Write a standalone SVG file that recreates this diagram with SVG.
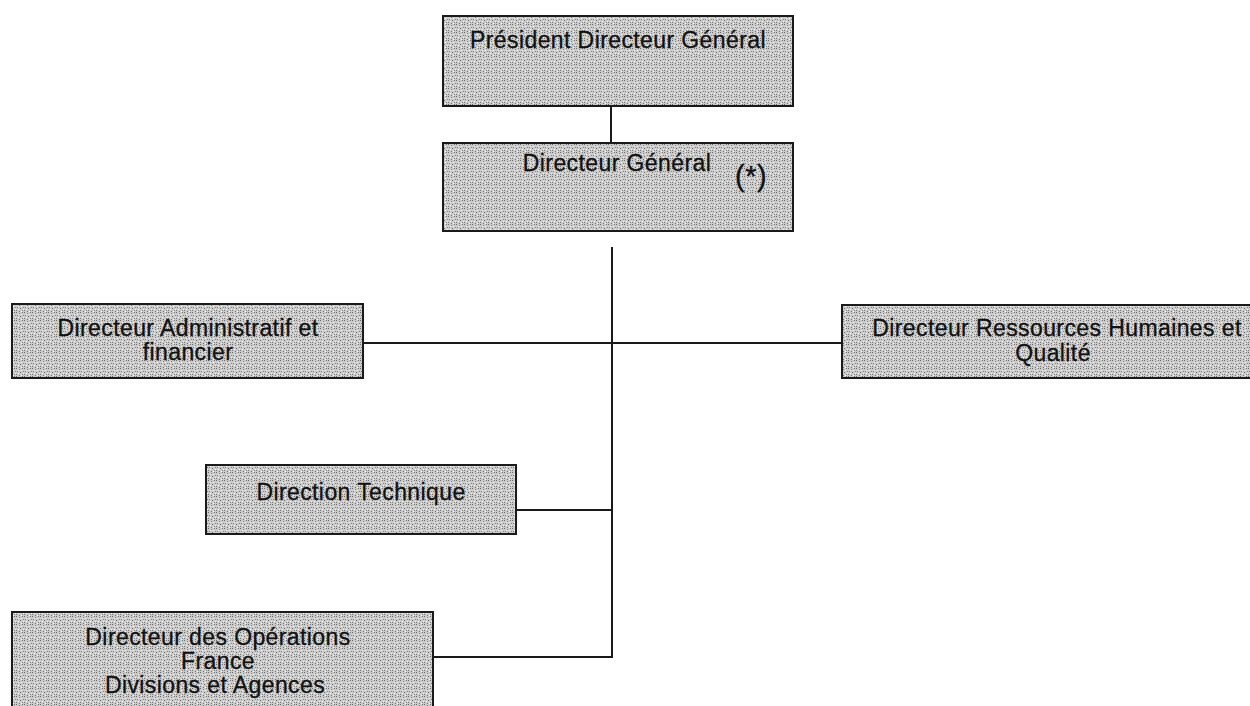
<svg xmlns="http://www.w3.org/2000/svg" width="1250" height="706" viewBox="0 0 1250 706">
  <defs>
    <pattern id="stipple" width="8" height="8" patternUnits="userSpaceOnUse">
      <rect width="8" height="8" fill="#cbcbcb"/>
      <rect x="0" y="0" width="1" height="1" fill="#6a6a6a"/>
      <rect x="3" y="1" width="1" height="1" fill="#808080"/>
      <rect x="6" y="0" width="1" height="1" fill="#757575"/>
      <rect x="1" y="3" width="1" height="1" fill="#7c7c7c"/>
      <rect x="5" y="2" width="1" height="1" fill="#f4f4f4"/>
      <rect x="4" y="4" width="1" height="1" fill="#6e6e6e"/>
      <rect x="7" y="3" width="1" height="1" fill="#888"/>
      <rect x="2" y="5" width="1" height="1" fill="#f0f0f0"/>
      <rect x="0" y="6" width="1" height="1" fill="#777"/>
      <rect x="6" y="6" width="1" height="1" fill="#828282"/>
      <rect x="3" y="7" width="1" height="1" fill="#707070"/>
      <rect x="7" y="5" width="1" height="1" fill="#f2f2f2"/>
      <rect x="2" y="2" width="1" height="1" fill="#ffffff"/>
      <rect x="5" y="7" width="1" height="1" fill="#ffffff"/>
    </pattern>
  </defs>
  <style>
    .box { fill: url(#stipple); stroke: #1a1a1a; stroke-width: 2; }
    .lbl { font-family: "Liberation Sans", Arial, sans-serif; font-size: 23px; letter-spacing: 0.4px; fill: #111; stroke: #111; stroke-width: 0.3; text-anchor: middle; }
    .conn line { stroke: #1a1a1a; stroke-width: 2; }
  </style>
  <rect width="1250" height="706" fill="#ffffff"/>

  <g id="connectors" class="conn">
    <line x1="611" y1="106" x2="611" y2="143"/>
    <line x1="612" y1="247" x2="612" y2="658"/>
    <line x1="363" y1="343" x2="842" y2="343"/>
    <line x1="516" y1="510" x2="612" y2="510"/>
    <line x1="433" y1="657" x2="612" y2="657"/>
  </g>

  <g id="node-pdg">
    <rect class="box" x="443" y="16" width="350" height="90"/>
    <text class="lbl" x="618" y="48">Président Directeur Général</text>
  </g>

  <g id="node-dg">
    <rect class="box" x="443" y="143" width="350" height="88"/>
    <text class="lbl" x="617" y="171">Directeur Général</text>
    <text x="735" y="186" font-family="Liberation Sans, Arial, sans-serif" font-size="29" letter-spacing="0.5" fill="#111" stroke="#111" stroke-width="0.3">(*)</text>
  </g>

  <g id="node-daf">
    <rect class="box" x="12" y="304" width="351" height="74"/>
    <text class="lbl" x="188" y="336">Directeur Administratif et</text>
    <text class="lbl" x="188" y="360">financier</text>
  </g>

  <g id="node-drh">
    <rect class="box" x="842" y="305" width="430" height="73"/>
    <text class="lbl" x="1057" y="336">Directeur Ressources Humaines et</text>
    <text class="lbl" x="1053" y="361">Qualité</text>
  </g>

  <g id="node-dt">
    <rect class="box" x="206" y="465" width="310" height="69"/>
    <text class="lbl" x="361" y="500">Direction Technique</text>
  </g>

  <g id="node-ops">
    <rect class="box" x="12" y="612" width="421" height="100"/>
    <text class="lbl" x="218" y="645">Directeur des Opérations</text>
    <text class="lbl" x="218" y="669">France</text>
    <text class="lbl" x="215" y="693">Divisions et Agences</text>
  </g>
</svg>
